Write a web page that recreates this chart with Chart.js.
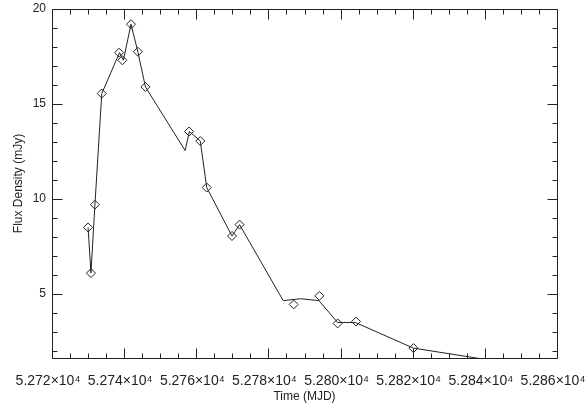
<html>
  <head>
    <title>Flux Density</title>
    <script src="https://cdn.jsdelivr.net/npm/chart.js@4.4.1/dist/chart.umd.min.js"></script>
    <style>
      body {
        margin: 0;
        background: white;
      }
      canvas {
        display: block;
      }
    </style>
  </head>

  <body>
    <canvas id="fluxChart" width="587" height="407"></canvas>
  </body>

  <script>
    // curve through the light curve (MJD, mJy)
    var lineTimes = [52730.0, 52730.8, 52731.9, 52733.8, 52738.7, 52739.8, 52741.9, 52743.8, 52745.9, 52756.9, 52758.1, 52761.1, 52762.9, 52769.9, 52772.0, 52784.1, 52788.9, 52794.0, 52799.2, 52804.1, 52820.2, 52847.0];
    var lineFlux = [8.5, 6.1, 9.7, 15.55, 17.7, 17.3, 19.2, 17.75, 15.9, 12.55, 13.55, 13.05, 10.6, 8.05, 8.65, 4.65, 4.75, 4.65, 3.5, 3.5, 2.15, 1.35];

    // measured points (diamonds)
    var obsTimes = [52730.0, 52730.8, 52731.9, 52733.8, 52738.6, 52739.5, 52741.9, 52743.8, 52745.9, 52758.0, 52761.1, 52762.9, 52769.9, 52772.0, 52787.0, 52794.1, 52799.2, 52804.3, 52820.2];
    var obsFlux = [8.5, 6.1, 9.7, 15.55, 17.7, 17.3, 19.2, 17.75, 15.9, 13.55, 13.05, 10.6, 8.05, 8.65, 4.45, 4.9, 3.45, 3.55, 2.15];

    var xTicks = [52720, 52740, 52760, 52780, 52800, 52820, 52840, 52860];
    var yTicks = [5, 10, 15, 20];

    var font = { family: "'Liberation Sans', Arial, sans-serif", size: 12 };
    var xFont = { family: "'Liberation Sans', Arial, sans-serif", size: 14 };
    var ink = "#222";

    function toPoints(xs, ys) {
      return xs.map(function (x, i) { return { x: x, y: ys[i] }; });
    }

    function fmtTime(v) {
      return (v / 10000).toFixed(3) + "\u00d710\u2074";
    }

    // IDL-style frame with inward ticks on all four sides
    var frame = {
      id: "frame",
      afterDraw: function (chart) {
        var ctx = chart.ctx;
        var a = chart.chartArea;
        var xs = chart.scales.x;
        var ys = chart.scales.y;
        var l = Math.round(a.left) + 0.5, r = Math.round(a.right) + 0.5;
        var t = Math.round(a.top) + 0.5, b = Math.round(a.bottom) + 0.5;
        ctx.save();
        ctx.strokeStyle = ink;
        ctx.lineWidth = 1;
        ctx.beginPath();
        ctx.rect(l, t, r - l, b - t);
        for (var v = xs.min; v <= xs.max + 0.01; v += 5) {
          var len = (Math.round(v - xs.min) % 20 === 0) ? 10 : 5;
          var px = Math.round(xs.getPixelForValue(v)) + 0.5;
          ctx.moveTo(px, b); ctx.lineTo(px, b - len);
          ctx.moveTo(px, t); ctx.lineTo(px, t + len);
        }
        for (var w = Math.ceil(ys.min); w <= ys.max + 0.01; w += 1) {
          var len2 = (w % 5 === 0) ? 10 : 5;
          var py = Math.round(ys.getPixelForValue(w)) + 0.5;
          ctx.moveTo(l, py); ctx.lineTo(l + len2, py);
          ctx.moveTo(r, py); ctx.lineTo(r - len2, py);
        }
        ctx.stroke();
        ctx.restore();
      }
    };

    var config = {
      type: "scatter",
      data: {
        datasets: [
          {
            label: "curve",
            data: toPoints(lineTimes, lineFlux),
            showLine: true,
            borderColor: ink,
            borderWidth: 1,
            pointRadius: 0,
            tension: 0
          },
          {
            label: "data",
            data: toPoints(obsTimes, obsFlux),
            showLine: false,
            pointStyle: "rectRot",
            pointRadius: 4.5,
            borderColor: ink,
            borderWidth: 1,
            backgroundColor: "rgba(0,0,0,0)"
          }
        ]
      },
      options: {
        responsive: false,
        animation: false,
        devicePixelRatio: 1,
        layout: { padding: { top: 9, right: 30, left: 0, bottom: 0 } },
        plugins: { legend: { display: false }, tooltip: { enabled: false } },
        scales: {
          x: {
            type: "linear",
            min: 52720,
            max: 52860,
            grid: { display: false, drawTicks: false },
            border: { display: false },
            afterBuildTicks: function (s) {
              s.ticks = xTicks.map(function (v) { return { value: v }; });
            },
            afterFit: function (s) {
              s.height = 49;
              s.paddingLeft = 0; s.paddingRight = 0;
            },
            ticks: {
              autoSkip: false,
              maxRotation: 0,
              padding: 15,
              labelOffset: -4,
              color: ink,
              font: xFont,
              callback: function (v) { return fmtTime(v); }
            },
            title: { display: true, text: "Time (MJD)", color: ink, font: font, padding: { top: 0, bottom: 3 } }
          },
          y: {
            type: "linear",
            min: 1.63,
            max: 20,
            grid: { display: false, drawTicks: false },
            border: { display: false },
            afterBuildTicks: function (s) {
              s.ticks = yTicks.map(function (v) { return { value: v }; });
            },
            afterFit: function (s) {
              s.width = 52;
              s.paddingTop = 0; s.paddingBottom = 0;
            },
            ticks: {
              padding: 6,
              color: ink,
              font: font,
              callback: function (v) { return String(v); }
            },
            title: { display: true, text: "Flux Density (mJy)", color: ink, font: font, padding: { top: 11, bottom: 0 } }
          }
        }
      },
      plugins: [frame]
    };

    var fluxChart = new Chart(document.getElementById("fluxChart"), config);
  </script>
</html>
